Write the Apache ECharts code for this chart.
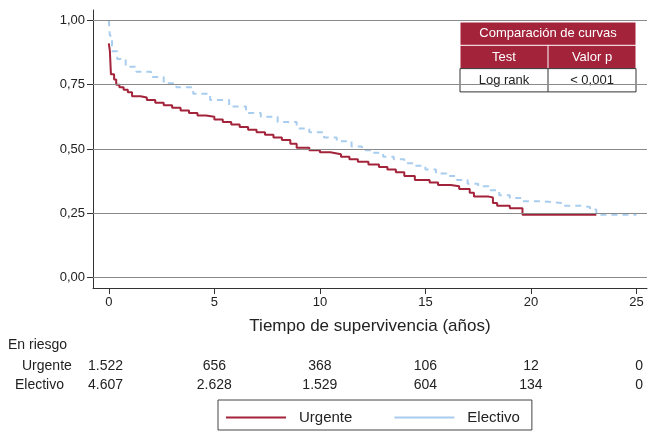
<!DOCTYPE html>
<html><head><meta charset="utf-8">
<script src="https://cdn.jsdelivr.net/npm/echarts@6/dist/echarts.min.js"></script>
<style>html,body{margin:0;padding:0;background:#fff}#c{width:649px;height:435px}</style>
</head><body><div id="c"></div>
<script>
// survival curves (years, survival)
let urgente = [[0,0.91],[0.05,0.88],[0.1,0.79],[0.25,0.77],[0.35,0.75],[0.5,0.74],[0.7,0.73],[0.9,0.72],[1.1,0.705],[1.5,0.70],[1.8,0.69],[2.2,0.68],[2.6,0.67],[3,0.66],[3.4,0.65],[3.8,0.64],[4.2,0.63],[4.6,0.625],[5,0.615],[5.4,0.605],[5.8,0.595],[6.2,0.585],[6.6,0.575],[7,0.565],[7.4,0.555],[7.8,0.545],[8.2,0.535],[8.6,0.52],[8.9,0.505],[9.5,0.495],[10,0.487],[10.5,0.48],[11,0.47],[11.4,0.46],[11.8,0.45],[12.3,0.44],[12.8,0.43],[13.2,0.42],[13.6,0.41],[14,0.395],[14.5,0.38],[15.2,0.37],[15.6,0.36],[16.2,0.355],[16.6,0.345],[17.1,0.33],[17.3,0.315],[18,0.312],[18.2,0.29],[18.4,0.28],[19,0.27],[19.6,0.245],[23.1,0.245]];
let electivo = [[0,1.0],[0.05,0.94],[0.15,0.88],[0.4,0.85],[0.8,0.82],[1.3,0.80],[2,0.78],[2.6,0.755],[3.2,0.74],[4,0.715],[4.8,0.69],[5.7,0.665],[6.5,0.64],[7.2,0.625],[8,0.605],[8.9,0.58],[9.5,0.565],[10.2,0.545],[10.8,0.53],[11.5,0.51],[12,0.495],[12.5,0.485],[13,0.47],[13.5,0.46],[14,0.445],[14.5,0.435],[15,0.42],[15.5,0.405],[16,0.395],[16.5,0.38],[17,0.365],[17.5,0.355],[18,0.34],[18.5,0.32],[19,0.31],[19.6,0.297],[20.5,0.29],[21.5,0.28],[22.3,0.275],[22.8,0.265],[23.1,0.245],[25,0.245]];
let xTicks = [0,5,10,15,20,25];
let yTicks = [0,0.25,0.5,0.75,1];
let riskUrg = ['1.522','656','368','106','12','0'];
let riskElec = ['4.607','2.628','1.529','604','134','0'];

let red = '#A3233A', blue = '#A9CDEE';
let font = 'Liberation Sans, Arial, sans-serif';
let chart = echarts.init(document.getElementById('c'));
let opt = {
  animation: false,
  textStyle: {fontFamily: font},
  grid: {left: 93, right: 2, top: 10, bottom: 147},
  xAxis: {
    type: 'value', min: -0.75, max: 25.5,
    name: 'Tiempo de supervivencia (años)', nameLocation: 'middle', nameGap: 30,
    nameTextStyle: {fontSize: 17, color: '#222', fontFamily: font},
    axisLine: {onZero: false, lineStyle: {color: '#333'}},
    axisTick: {customValues: xTicks, length: 6, lineStyle: {color: '#333'}},
    axisLabel: {customValues: xTicks, fontSize: 13, color: '#222', formatter: v => String(v)},
    splitLine: {show: false}
  },
  yAxis: {
    type: 'value', min: -0.04, max: 1.04,
    axisLine: {show: true, onZero: false, lineStyle: {color: '#333'}},
    axisTick: {customValues: yTicks, length: 6, lineStyle: {color: '#333'}},
    axisLabel: {customValues: yTicks, fontSize: 13, color: '#222', formatter: v => v.toFixed(2).replace('.', ',')},
    splitLine: {show: false}
  },
  legend: {
    data: ['Urgente', 'Electivo'], left: 218, top: 400,
    itemWidth: 60, itemHeight: 2, itemGap: 42, padding: [10, 12, 5, 8], borderColor: '#444', borderWidth: 1,
    textStyle: {fontSize: 15, color: '#222', padding: [0, 0, 0, 8]}, icon: 'rect'
  },
  series: [
    {type: 'line', name: 'grid', data: [], silent: true,
     markLine: {symbol: 'none', silent: true, label: {show: false},
       lineStyle: {color: '#8a8a8a', type: 'solid', width: 1},
       data: yTicks.map(v => ({yAxis: v}))}},
    {name: 'Electivo', type: 'line', step: 'end', data: electivo, showSymbol: false,
     lineStyle: {color: blue, width: 2, type: [6, 5]}, itemStyle: {color: blue}},
    {name: 'Urgente', type: 'line', step: 'end', data: urgente, showSymbol: false,
     lineStyle: {color: red, width: 2}, itemStyle: {color: red}}
  ]
};
chart.setOption(opt);

let g = [];
function txt(x, y, s, align) {
  g.push({type: 'text', x: x, y: y, style: {text: s, fill: '#222', font: '14px ' + font, align: align || 'left', verticalAlign: 'middle'}});
}
txt(8, 345, 'En riesgo');
txt(22, 366, 'Urgente');
txt(15, 385, 'Electivo');
for (let i = 0; i < xTicks.length; i++) {
  let px = chart.convertToPixel({xAxisIndex: 0}, xTicks[i]);
  let al = i === 0 ? 'left' : (i === xTicks.length - 1 ? 'right' : 'center');
  let x = i === 0 ? 88 : (i === xTicks.length - 1 ? 643 : px);
  txt(x, 366, riskUrg[i], al);
  txt(x, 385, riskElec[i], al);
}
// comparison table
let tx = 460, ty = 22, tw = 176, rh = 23.3, cx = 548;
g.push({type: 'rect', shape: {x: tx, y: ty, width: tw, height: rh * 2}, style: {fill: red, stroke: '#fff', lineWidth: 1}});
g.push({type: 'line', shape: {x1: tx, y1: ty + rh, x2: tx + tw, y2: ty + rh}, style: {stroke: '#fff', lineWidth: 1}});
g.push({type: 'line', shape: {x1: cx, y1: ty + rh, x2: cx, y2: ty + rh * 3}, style: {stroke: '#fff', lineWidth: 1}});
g.push({type: 'rect', shape: {x: tx, y: ty + rh * 2, width: tw, height: rh}, style: {fill: '#fff', stroke: '#333', lineWidth: 1}});
g.push({type: 'line', shape: {x1: cx, y1: ty + rh * 2, x2: cx, y2: ty + rh * 3}, style: {stroke: '#333', lineWidth: 1}});
function ttxt(x, y, s, c) {
  g.push({type: 'text', x: x, y: y, style: {text: s, fill: c, font: '13px ' + font, align: 'center', verticalAlign: 'middle'}});
}
ttxt(tx + tw / 2, ty + rh / 2, 'Comparación de curvas', '#fff');
ttxt((tx + cx) / 2, ty + rh * 1.5, 'Test', '#fff');
ttxt((cx + tx + tw) / 2, ty + rh * 1.5, 'Valor p', '#fff');
ttxt((tx + cx) / 2, ty + rh * 2.5, 'Log rank', '#222');
ttxt((cx + tx + tw) / 2, ty + rh * 2.5, '< 0,001', '#222');
chart.setOption({graphic: g});
</script></body></html>
